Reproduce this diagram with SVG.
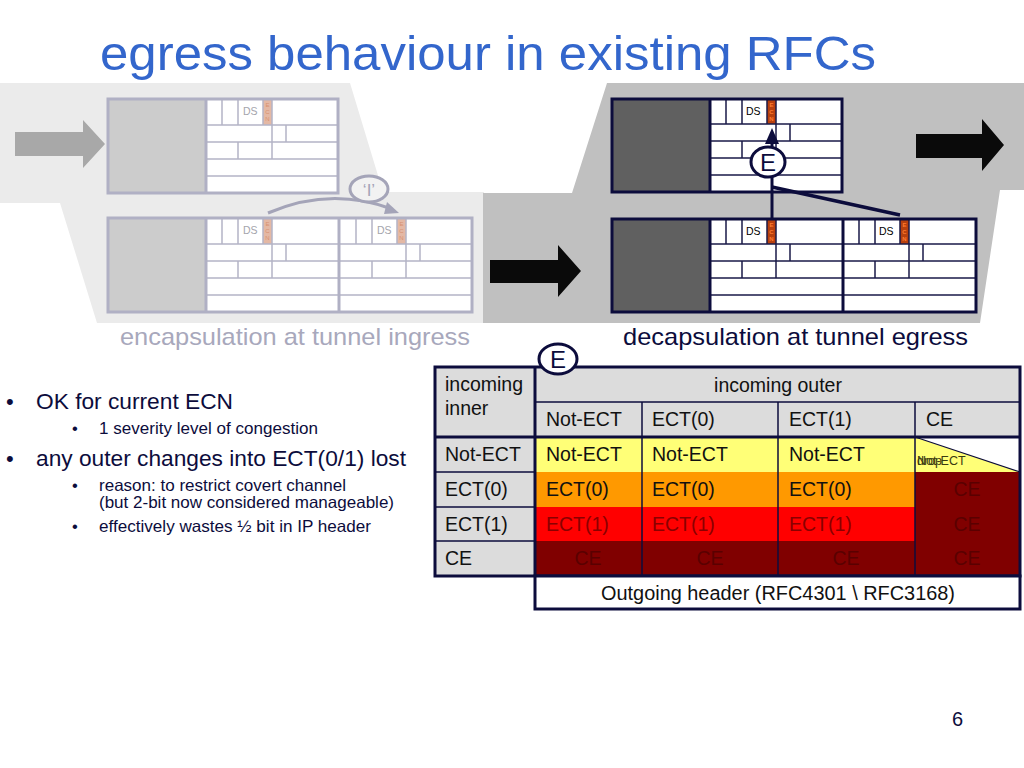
<svg xmlns="http://www.w3.org/2000/svg" xmlns:xlink="http://www.w3.org/1999/xlink" width="1024" height="768" viewBox="0 0 1024 768">
<style>
text{font-family:"Liberation Sans",Arial,sans-serif}
.navy{fill:#0c0c3c}
.tb{font-size:19.5px;fill:#111}
.tl{stroke:#0c0c3c;stroke-width:1.5;fill:none}
.tt{stroke:#0c0c3c;stroke-width:3;fill:none}
.sub{font-size:16.5px;fill:#0c0c3c}
.main{font-size:22px;fill:#0c0c3c}
</style>
<defs>
<g id="hIn">
<rect width="132" height="94" fill="#fff"/>
<rect x="57" y="1" width="9" height="25" fill="#e4b8a4"/>
<path d="M0 26H132M0 43H132M0 60H132M0 77H132M16 0V26M32 0V26M57 0V26M66 0V43M80 26V43M32 43V60M66 43V60" stroke="#b4b4c6" stroke-width="1.5" fill="none"/>
<text x="37" y="16" font-size="10.5" fill="#a4a4ac">DS</text>
<g font-size="6" fill="#d89070" text-anchor="middle"><text x="61.5" y="8">E</text><text x="61.5" y="15">C</text><text x="61.5" y="22">N</text></g>
</g>
<g id="hEg">
<rect width="132" height="93" fill="#fff"/>
<rect x="57" y="1" width="9" height="24" fill="#b8400e"/>
<path d="M0 25H132M0 42H132M0 59H132M0 76H132M16 0V25M32 0V25M57 0V25M66 0V42M80 25V42M32 42V59M66 42V59" stroke="#1a1a48" stroke-width="1.5" fill="none"/>
<text x="36" y="16" font-size="10.5" fill="#000">DS</text>
<g font-size="6" font-weight="bold" fill="#ff7a30" text-anchor="middle"><text x="61.5" y="8">E</text><text x="61.5" y="15">C</text><text x="61.5" y="22">N</text></g>
</g>
</defs>

<rect width="1024" height="768" fill="#fff"/>

<g id="title">
<text x="100" y="70" font-size="49" fill="#3366cc" textLength="776" lengthAdjust="spacingAndGlyphs">egress behaviour in existing RFCs</text>
</g>

<g id="backgrounds">
<polygon points="0,83 350,83 383,192 484,192 484,323 97,323 60,203 0,203" fill="#ebebeb"/>
<polygon points="607,83 1024,83 1024,190 1000,190 980,323 483,323 483,193 572,193" fill="#c0c0c0"/>
</g>

<g id="arrow-in-left">
<polygon points="15,132 83,132 83,120 105,144 83,168 83,156 15,156" fill="#a8a8a8"/>
</g>
<g id="arrow-egress-in">
<polygon points="490,260 558,260 558,245 581,271 558,297 558,283 490,283" fill="#0a0a0a"/>
</g>
<g id="arrow-egress-out">
<polygon points="916,134 982,134 982,119 1004,145 982,171 982,158 916,158" fill="#0a0a0a"/>
</g>

<g id="ingress-inner-packet">
<rect x="108" y="99" width="98" height="94" fill="#cccccc"/>
<use xlink:href="#hIn" x="206" y="99"/>
<rect x="108" y="99" width="230" height="94" fill="none" stroke="#b0b0c4" stroke-width="3"/>
<line x1="206" y1="99" x2="206" y2="193" stroke="#b0b0c4" stroke-width="3"/>
</g>

<g id="ingress-tunnel-packet">
<rect x="108" y="218" width="98" height="94" fill="#cccccc"/>
<use xlink:href="#hIn" x="206" y="218"/>
<use xlink:href="#hIn" x="340" y="218"/>
<rect x="108" y="218" width="364" height="94" fill="none" stroke="#b0b0c4" stroke-width="3"/>
<line x1="206" y1="218" x2="206" y2="312" stroke="#b0b0c4" stroke-width="3"/>
<line x1="339" y1="218" x2="339" y2="312" stroke="#b0b0c4" stroke-width="3"/>
</g>

<g id="egress-tunnel-packet">
<rect x="612" y="219" width="98" height="93" fill="#606060"/>
<use xlink:href="#hEg" x="710" y="219"/>
<use xlink:href="#hEg" x="843" y="219"/>
<rect x="612" y="219" width="364" height="93" fill="none" stroke="#0c0c3c" stroke-width="3"/>
<line x1="710" y1="219" x2="710" y2="312" stroke="#0c0c3c" stroke-width="3"/>
<line x1="843" y1="219" x2="843" y2="312" stroke="#0c0c3c" stroke-width="3"/>
</g>

<g id="egress-inner-packet">
<rect x="612" y="99" width="98" height="93" fill="#606060"/>
<use xlink:href="#hEg" x="710" y="99"/>
<rect x="612" y="99" width="230" height="93" fill="none" stroke="#0c0c3c" stroke-width="3"/>
<line x1="710" y1="99" x2="710" y2="192" stroke="#0c0c3c" stroke-width="3"/>
</g>

<g id="connectors">
<path d="M268 213 Q330 186 392 209" fill="none" stroke="#a4a4b8" stroke-width="3"/>
<polygon points="387,202 399,213 384,214" fill="#a4a4b8"/>
<line x1="772" y1="219" x2="772" y2="142" stroke="#0c0c3c" stroke-width="3"/>
<polygon points="765,144 772,128 779,144" fill="#0c0c3c"/>
<line x1="772" y1="187" x2="900" y2="215" stroke="#0c0c3c" stroke-width="3.5"/>
</g>

<g id="label-I">
<ellipse cx="369" cy="189" rx="19" ry="13" fill="#f2f2f2" stroke="#a4a4b8" stroke-width="3"/>
<text x="369" y="196" font-size="17" fill="#a4a4b8" text-anchor="middle">‘I’</text>
</g>

<g id="label-E-egress">
<ellipse cx="768" cy="162" rx="17" ry="15" fill="#fff" stroke="#0c0c3c" stroke-width="3"/>
<text x="768" y="171" font-size="24" class="navy" text-anchor="middle">E</text>
</g>

<g id="caption-ingress">
<text x="120" y="345" font-size="24" fill="#a8a8bc" textLength="350" lengthAdjust="spacingAndGlyphs">encapsulation at tunnel ingress</text>
</g>
<g id="caption-egress">
<text x="623" y="345" font-size="24" class="navy" textLength="345" lengthAdjust="spacingAndGlyphs">decapsulation at tunnel egress</text>
</g>

<g id="bullets">
<text x="6" y="409" class="main">•</text>
<text x="36" y="409" class="main" textLength="197" lengthAdjust="spacingAndGlyphs">OK for current ECN</text>
<text x="72" y="434" class="sub">•</text>
<text x="99" y="434" class="sub" textLength="219" lengthAdjust="spacingAndGlyphs">1 severity level of congestion</text>
<text x="6" y="466" class="main">•</text>
<text x="36" y="466" class="main" textLength="370" lengthAdjust="spacingAndGlyphs">any outer changes into ECT(0/1) lost</text>
<text x="72" y="491" class="sub">•</text>
<text x="99" y="491" class="sub" textLength="247" lengthAdjust="spacingAndGlyphs">reason: to restrict covert channel</text>
<text x="99" y="508" class="sub" textLength="295" lengthAdjust="spacingAndGlyphs">(but 2-bit now considered manageable)</text>
<text x="72" y="532" class="sub">•</text>
<text x="99" y="532" class="sub" textLength="272" lengthAdjust="spacingAndGlyphs">effectively wastes ½ bit in IP header</text>
</g>

<g id="table">
<rect x="435" y="367" width="585" height="70" fill="#dcdcdc"/>
<rect x="435" y="437" width="100" height="139" fill="#dcdcdc"/>
<rect x="535" y="437" width="380" height="35" fill="#ffff77"/>
<rect x="915" y="437" width="105" height="35" fill="#ffffff"/>
<polygon points="915,437 1020,472 915,472" fill="#ffff77"/>
<line x1="915" y1="437" x2="1020" y2="472" stroke="#0c0c3c" stroke-width="1.2"/>
<rect x="535" y="472" width="380" height="35" fill="#ff9900"/>
<rect x="535" y="507" width="380" height="34" fill="#ff0000"/>
<rect x="535" y="541" width="485" height="35" fill="#800000"/>
<rect x="915" y="472" width="105" height="69" fill="#800000"/>
<path class="tl" d="M535 402H1020M642 402V576M778 402V576M915 402V576M435 472H535M435 507H535M435 541H535"/>
<path class="tt" d="M435 437H1020M535 367V576"/>
<rect x="435" y="367" width="585" height="209" class="tt"/>
<rect x="535" y="576" width="485" height="33" class="tt" style="fill:#fff"/>
<g class="tb">
<text x="445" y="391">incoming</text>
<text x="445" y="415">inner</text>
<text x="778" y="392" text-anchor="middle">incoming outer</text>
<text x="546" y="426">Not-ECT</text>
<text x="652" y="426">ECT(0)</text>
<text x="789" y="426">ECT(1)</text>
<text x="926" y="426">CE</text>
<text x="445" y="461">Not-ECT</text>
<text x="445" y="496">ECT(0)</text>
<text x="445" y="531">ECT(1)</text>
<text x="445" y="565">CE</text>
<text x="546" y="461">Not-ECT</text>
<text x="652" y="461">Not-ECT</text>
<text x="789" y="461">Not-ECT</text>
<text x="546" y="496">ECT(0)</text>
<text x="652" y="496">ECT(0)</text>
<text x="789" y="496">ECT(0)</text>
</g>
<g class="tb" style="fill:#8a0000">
<text x="546" y="531">ECT(1)</text>
<text x="652" y="531">ECT(1)</text>
<text x="789" y="531">ECT(1)</text>
</g>
<g class="tb" style="fill:#5a0000" text-anchor="middle">
<text x="967" y="496">CE</text>
<text x="967" y="531">CE</text>
<text x="588" y="565">CE</text>
<text x="710" y="565">CE</text>
<text x="846" y="565">CE</text>
<text x="967" y="565">CE</text>
</g>
<g font-size="12.5" fill="#3a3a10">
<text x="917" y="465">Not-ECT</text>
<text x="917" y="465">drop</text>
</g>
<text x="778" y="600" class="tb" text-anchor="middle" textLength="354" lengthAdjust="spacingAndGlyphs">Outgoing header (RFC4301 \ RFC3168)</text>
</g>

<g id="label-E-table">
<ellipse cx="558" cy="359" rx="19" ry="15" fill="#fff" stroke="#0c0c3c" stroke-width="3"/>
<text x="558" y="368" font-size="24" class="navy" text-anchor="middle">E</text>
</g>

<g id="page-number">
<text x="952" y="726" font-size="20" class="navy">6</text>
</g>
</svg>
